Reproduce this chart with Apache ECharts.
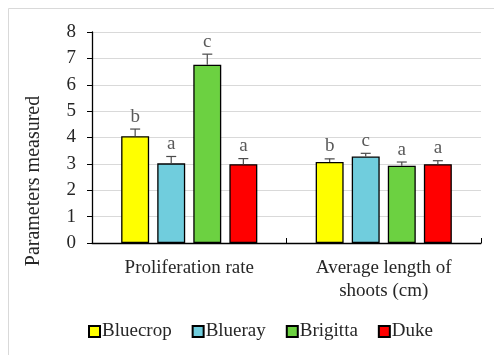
<!DOCTYPE html>
<html>
<head>
<meta charset="utf-8">
<script src="https://cdn.jsdelivr.net/npm/echarts@6/dist/echarts.min.js"></script>
<style>
  html, body { margin: 0; padding: 0; background: #fff; }
  #chart { width: 494px; height: 355px; }
</style>
</head>
<body>
<div id="chart"></div>
<script>
// Measured parameters per cultivar
const categories = ['Proliferation rate', 'Average length of\nshoots (cm)'];
const cultivars = ['Bluecrop', 'Blueray', 'Brigitta', 'Duke'];
const colors = ['#FFFF00', '#70CDDD', '#6CD141', '#FF0000'];

const bluecrop = [4.05, 3.07];
const blueray  = [3.02, 3.28];
const brigitta = [6.76, 2.93];
const duke     = [2.99, 2.99];

// Standard errors
const bluecropErr = [0.27, 0.12];
const bluerayErr  = [0.26, 0.12];
const brigittaErr = [0.40, 0.14];
const dukeErr     = [0.21, 0.13];

// Significance letters
const bluecropSig = ['b', 'b'];
const blueraySig  = ['a', 'c'];
const brigittaSig = ['c', 'a'];
const dukeSig     = ['a', 'a'];

const values = [bluecrop, blueray, brigitta, duke];
const errors = [bluecropErr, bluerayErr, brigittaErr, dukeErr];
const letters = [bluecropSig, blueraySig, brigittaSig, dukeSig];

const FAMILY = 'Liberation Serif';
const BAR_GAP = '29%';
const CAT_GAP = '30%';

const chart = echarts.init(document.getElementById('chart'));

const series = [];
cultivars.forEach((name, i) => {
  series.push({
    name: name,
    type: 'bar',
    data: values[i],
    barGap: BAR_GAP,
    barCategoryGap: CAT_GAP,
    itemStyle: { color: colors[i], borderColor: '#000', borderWidth: 1.3 },
    z: 2
  });
});

// Error bars and letters drawn over the bars
cultivars.forEach((name, i) => {
  series.push({
    type: 'custom',
    name: name + ' err',
    z: 3,
    data: values[i].map((v, k) => [k, v, errors[i][k], letters[i][k]]),
    renderItem: function (params, api) {
      const k = api.value(0);
      const v = api.value(1);
      const e = api.value(2);
      const layout = api.barLayout({
        barGap: BAR_GAP, barCategoryGap: CAT_GAP, count: cultivars.length
      });
      const base = api.coord([k, v]);
      const x = base[0] + layout[i].offsetCenter;
      const yTop = api.coord([k, v + e])[1];
      const yBar = base[1];
      const cap = 5;
      const stroke = { stroke: '#4a4a4a', lineWidth: 1.2 };
      return {
        type: 'group',
        children: [
          { type: 'line', shape: { x1: x, y1: yBar, x2: x, y2: yTop }, style: stroke },
          { type: 'line', shape: { x1: x - cap, y1: yTop, x2: x + cap, y2: yTop }, style: stroke },
          {
            type: 'text',
            style: {
              text: api.value(3),
              x: x, y: yTop - 3,
              textAlign: 'center', textVerticalAlign: 'bottom',
              fontFamily: FAMILY, fontSize: 19, fill: '#595959'
            }
          }
        ]
      };
    }
  });
});

chart.setOption({
  animation: false,
  backgroundColor: '#fff',
  graphic: [
    {
      type: 'rect', silent: true,
      shape: { x: 8.5, y: 8.5, width: 600, height: 600 },
      style: { fill: 'none', stroke: '#d9d9d9', lineWidth: 1 }
    },
    {
      type: 'text', rotation: Math.PI / 2,
      x: 34, y: 181,
      style: {
        text: 'Parameters measured',
        fontFamily: FAMILY, fontSize: 20, fill: '#262626',
        textAlign: 'center', textVerticalAlign: 'middle'
      }
    }
  ],
  grid: { left: 92, right: 13, top: 32, bottom: 112 },
  legend: {
    data: cultivars,
    bottom: 9,
    left: 83,
    icon: 'rect',
    itemWidth: 11,
    itemHeight: 11,
    itemGap: 20,
    textStyle: { fontFamily: FAMILY, fontSize: 19, color: '#262626', padding: [0, 0, 0, -3] }
  },
  xAxis: {
    type: 'category',
    data: categories,
    axisLine: { lineStyle: { color: '#000', width: 1.3 } },
    axisTick: { show: true, inside: true, length: 5, lineStyle: { color: '#000' } },
    axisLabel: {
      fontFamily: FAMILY, fontSize: 19, color: '#262626',
      lineHeight: 23, margin: 14
    }
  },
  yAxis: {
    type: 'value',
    min: 0, max: 8, interval: 1,
    axisLine: { show: true, lineStyle: { color: '#000', width: 1.3 } },
    axisTick: { show: true, length: 5, lineStyle: { color: '#000' } },
    axisLabel: { fontFamily: FAMILY, fontSize: 19, color: '#262626', margin: 16 },
    splitLine: { lineStyle: { color: '#d9d9d9', width: 1.2 } }
  },
  series: series
});
</script>
</body>
</html>
